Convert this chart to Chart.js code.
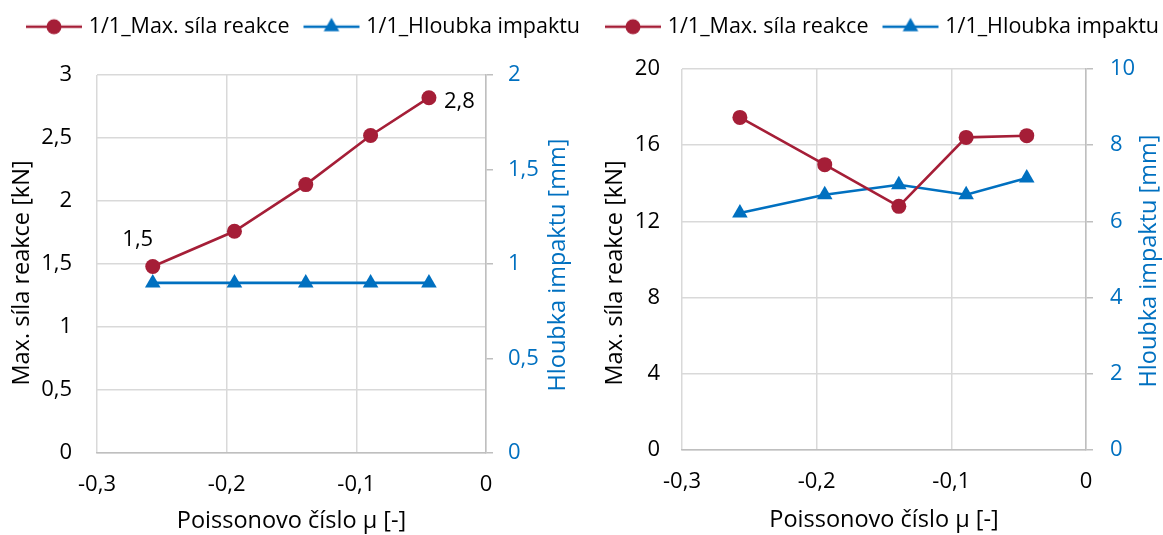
<!DOCTYPE html>
<html>
<head>
<meta charset="utf-8">
<script src="https://cdn.jsdelivr.net/npm/chart.js@4.4.1/dist/chart.umd.min.js"></script>
<style>
  html, body { margin: 0; padding: 0; background: #fff; }
  #wrap { position: relative; width: 1163px; height: 535px; overflow: hidden; }
  canvas { position: absolute; top: 0; }
  #chartLeft { left: 0; }
  #chartRight { left: 585px; }
</style>
</head>
<body>
<div id="wrap">
  <canvas id="chartLeft" width="602" height="535"></canvas>
  <canvas id="chartRight" width="590" height="535"></canvas>
</div>
<script>
// Poisson's ratio of the tested variants (same for both panels)
const poisson = [-0.257, -0.194, -0.139, -0.089, -0.044];
const seriesNames = ['1/1_Max. síla reakce', '1/1_Hloubka impaktu'];

// left panel: reaction force [kN] and impact depth [mm]
const forceA = [1.48, 1.76, 2.13, 2.52, 2.82];
const depthA = [0.90, 0.90, 0.90, 0.90, 0.90];

// right panel
const forceB = [17.46, 14.98, 12.79, 16.41, 16.50];
const depthB = [6.22, 6.70, 6.96, 6.70, 7.14];

// axis ranges as [min, max, step]
const xRange = [-0.3, 0, 0.1];
const forceRangeA = [0, 3, 0.5];
const depthRangeA = [0, 2, 0.5];
const forceRangeB = [0, 20, 4];
const depthRangeB = [0, 10, 2];

const RED = '#A51E37';
const BLUE = '#0070C0';
const GRID = '#D9D9D9';
const AXIS = '#BFBFBF';
const FAMILY = "'Open Sans', sans-serif";
const SIZE = 22;
const TITLE_SIZE = 23.5;
const LEGEND_SIZE = 21.5;
const LINE_W = 2.6;
const DOT_R = 7.5;
const TRI_R = 9;

Chart.defaults.font.family = FAMILY;
Chart.defaults.font.size = SIZE;
Chart.defaults.color = '#000';

// czech decimal comma
const fmt = v => String(Math.round(v * 10) / 10).replace('.', ',');
const toPoints = arr => poisson.map((x, i) => ({ x: x, y: arr[i] }));

// little line+marker images for the legend
function legendIcon(color, style, radius) {
  const c = document.createElement('canvas');
  c.width = 74;
  c.height = 22;
  const g = c.getContext('2d');
  g.strokeStyle = color;
  g.fillStyle = color;
  g.lineWidth = LINE_W;
  g.beginPath();
  g.moveTo(13, 11);
  g.lineTo(69, 11);
  g.stroke();
  Chart.helpers.drawPoint(g, { pointStyle: style, radius: radius, borderWidth: 0, rotation: 0 }, 41, 11);
  return c;
}
const legendIcons = [legendIcon(RED, 'circle', DOT_R), legendIcon(BLUE, 'triangle', TRI_R)];

// makes room under the legend
const legendSpacer = {
  id: 'legendSpacer',
  afterInit(chart, args, opts) {
    const fitLegend = chart.legend.fit;
    chart.legend.fit = function () {
      fitLegend.call(this);
      this.height = opts.height;
    };
  }
};

// rotated titles next to both value axes
const sideTitles = {
  id: 'sideTitles',
  afterDraw(chart, args, opts) {
    const ctx = chart.ctx;
    (opts.items || []).forEach(t => {
      ctx.save();
      ctx.translate(t.x, t.y);
      ctx.rotate(-Math.PI / 2);
      ctx.font = TITLE_SIZE + 'px ' + FAMILY;
      ctx.fillStyle = t.color;
      ctx.textAlign = 'center';
      ctx.textBaseline = 'middle';
      ctx.fillText(t.text, 0, 0);
      ctx.restore();
    });
  }
};

// value labels on selected points
const pointLabels = {
  id: 'pointLabels',
  afterDatasetsDraw(chart, args, opts) {
    if (!opts.items) return;
    const ctx = chart.ctx;
    const meta = chart.getDatasetMeta(opts.dataset);
    const ds = chart.data.datasets[opts.dataset];
    ctx.save();
    ctx.font = SIZE + 'px ' + FAMILY;
    ctx.fillStyle = '#000';
    ctx.textBaseline = 'middle';
    opts.items.forEach(it => {
      const el = meta.data[it.index];
      ctx.textAlign = it.align;
      ctx.fillText(fmt(ds.data[it.index].y), el.x + it.dx, el.y + it.dy);
    });
    ctx.restore();
  }
};

function buildChart(id, force, depth, forceRange, depthRange, frame) {
  const ctx = document.getElementById(id);
  return new Chart(ctx, {
    type: 'line',
    data: {
      datasets: [{
        label: seriesNames[0],
        data: toPoints(force),
        yAxisID: 'y',
        borderColor: RED,
        backgroundColor: RED,
        borderWidth: LINE_W,
        pointStyle: 'circle',
        pointRadius: DOT_R,
        pointBorderWidth: 0,
        tension: 0
      }, {
        label: seriesNames[1],
        data: toPoints(depth),
        yAxisID: 'y1',
        borderColor: BLUE,
        backgroundColor: BLUE,
        borderWidth: LINE_W,
        pointStyle: 'triangle',
        pointRadius: TRI_R,
        pointBorderWidth: 0,
        tension: 0
      }]
    },
    options: {
      responsive: false,
      animation: false,
      layout: { padding: { top: 6, left: 0, right: 0, bottom: 0 } },
      plugins: {
        legend: {
          position: 'top',
          labels: {
            usePointStyle: true,
            pointStyleWidth: 56,
            padding: 10,
            font: { size: LEGEND_SIZE },
            generateLabels: chart => Chart.defaults.plugins.legend.labels.generateLabels(chart)
              .map((item, i) => Object.assign(item, { pointStyle: legendIcons[i] }))
          }
        },
        tooltip: { enabled: false },
        legendSpacer: { height: frame.legendH },
        sideTitles: { items: frame.titles },
        pointLabels: frame.pointLabels || {}
      },
      scales: {
        x: {
          type: 'linear',
          min: xRange[0],
          max: xRange[1],
          ticks: { stepSize: xRange[2], padding: frame.xTickPad, maxRotation: 0, callback: fmt },
          grid: { color: GRID, lineWidth: 1.5, drawTicks: false },
          border: { display: true, color: AXIS, width: 1.5 },
          title: {
            display: true,
            text: 'Poissonovo číslo µ [-]',
            font: { size: TITLE_SIZE },
            padding: { top: 0, bottom: frame.xTitlePad }
          },
          afterFit: s => { s.height = frame.bottomH; }
        },
        y: {
          position: 'left',
          min: forceRange[0],
          max: forceRange[1],
          ticks: { stepSize: forceRange[2], padding: frame.yTickPad, callback: fmt },
          grid: { color: GRID, lineWidth: 1.5, drawTicks: false },
          border: { display: false },
          afterFit: s => { s.width = frame.leftW; }
        },
        y1: {
          position: 'right',
          min: depthRange[0],
          max: depthRange[1],
          ticks: { stepSize: depthRange[2], padding: frame.y1TickPad, color: BLUE, callback: fmt },
          grid: { drawOnChartArea: false, drawTicks: true, tickLength: 7, color: AXIS, lineWidth: 1.5 },
          border: { display: true, color: AXIS, width: 1.5 },
          afterFit: s => { s.width = frame.rightW; }
        }
      }
    },
    plugins: [legendSpacer, sideTitles, pointLabels]
  });
}

buildChart('chartLeft', forceA, depthA, forceRangeA, depthRangeA, {
  leftW: 97, rightW: 116, legendH: 69, bottomH: 82,
  xTickPad: 19, xTitlePad: 0, yTickPad: 25, y1TickPad: 15,
  titles: [
    { text: 'Max. síla reakce [kN]', x: 22, y: 273, color: '#000' },
    { text: 'Hloubka impaktu [mm]', x: 558, y: 265, color: BLUE }
  ],
  pointLabels: {
    dataset: 0,
    items: [
      { index: 0, dx: -15, dy: -27, align: 'center' },
      { index: 4, dx: 15, dy: 4, align: 'left' }
    ]
  }
});

buildChart('chartRight', forceB, depthB, forceRangeB, depthRangeB, {
  leftW: 97, rightW: 89, legendH: 63, bottomH: 85,
  xTickPad: 19, xTitlePad: 1, yTickPad: 22, y1TickPad: 17,
  titles: [
    { text: 'Max. síla reakce [kN]', x: 30, y: 273, color: '#000' },
    { text: 'Hloubka impaktu [mm]', x: 564, y: 261, color: BLUE }
  ]
});
</script>
</body>
</html>
